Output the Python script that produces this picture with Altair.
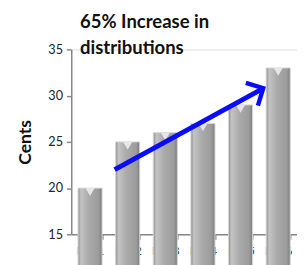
import altair as alt
import pandas as pd

years = ["FY11", "FY12", "FY13", "FY14", "FY15", "FY16"]
cents = [20, 25, 26, 27, 29, 33]

arrow_from = ["FY12"]
arrow_to = ["FY16"]
arrow_y_from = [22.0]
arrow_y_to = [30.8]

title_lines = ["65% Increase in", "distributions"]

bars_df = pd.DataFrame({"year": years, "cents": cents})
arrow_df = pd.DataFrame({"a": arrow_from, "b": arrow_to, "ya": arrow_y_from, "yb": arrow_y_to})

W, H = 232, 190
FONT = "Lato"

yscale = alt.Scale(domain=[15, 35], nice=False, zero=False)
xband = alt.Scale(domain=years, paddingInner=0.36, paddingOuter=0.18)

grad = alt.Gradient(
    gradient="linear", x1=0, x2=1, y1=0, y2=0,
    stops=[
        alt.GradientStop(offset=0, color="#8a8a8a"),
        alt.GradientStop(offset=0.12, color="#c4c4c4"),
        alt.GradientStop(offset=0.45, color="#aaaaaa"),
        alt.GradientStop(offset=0.85, color="#9c9c9c"),
        alt.GradientStop(offset=1, color="#7c7c7c"),
    ],
)

bars = alt.Chart(bars_df).mark_bar(fill=grad, stroke="#d8d8d8", strokeWidth=1).encode(
    x=alt.X("year:N", scale=xband, sort=years,
            axis=alt.Axis(title=None, labelAngle=0, tickBand="extent", domainColor="#888888",
                          tickColor="#888888", tickSize=5, labelPadding=7, labelFont=FONT,
                          labelFontSize=12, labelColor="#222222", domainWidth=1.5, tickWidth=1.5)),
    y=alt.Y("cents:Q", scale=yscale,
            axis=alt.Axis(values=[15, 20, 25, 30, 35], grid=False, title="Cents",
                          titleFont=FONT, titleFontSize=18, titleFontWeight="bold",
                          titleColor="#111111", titleAngle=-90, titleX=-47, titleY=95,
                          titleAlign="center", titleBaseline="middle",
                          labelFont=FONT, labelFontSize=13, labelColor="#222222",
                          domainColor="#888888", tickColor="#888888", tickSize=5,
                          labelPadding=4, domainWidth=1.5, tickWidth=1.5)),
)

caps = alt.Chart(bars_df).mark_point(shape="triangle-down", filled=True, color="#e6e6e6",
                                     opacity=1, size=90, yOffset=4).encode(
    x=alt.X("year:N", scale=xband, sort=years),
    y=alt.Y("cents:Q", scale=yscale),
)

arrow_line = alt.Chart(arrow_df).mark_rule(color="#0a0aff", strokeWidth=5, strokeCap="butt",
                                           xOffset=-1, x2Offset=-3).encode(
    x=alt.X("a:N", scale=xband, bandPosition=0),
    x2=alt.X2("b:N", bandPosition=0),
    y=alt.Y("ya:Q", scale=yscale),
    y2="yb:Q",
)

arrow_head = alt.Chart(arrow_df).mark_point(
    shape="M -1 1 L 0 0 L 1 1", filled=False, stroke="#0a0aff", strokeWidth=4.5,
    size=700, angle=62, opacity=1, strokeJoin="miter", strokeCap="butt", xOffset=-3).encode(
    x=alt.X("b:N", scale=xband, bandPosition=0),
    y=alt.Y("yb:Q", scale=yscale),
)

title1 = alt.Chart(pd.DataFrame({"t": [title_lines[0]]})).mark_text(
    align="left", baseline="alphabetic", font=FONT, fontSize=19, fontWeight="bold",
    color="#111111").encode(text="t:N", x=alt.value(9), y=alt.value(-22))
title2 = alt.Chart(pd.DataFrame({"t": [title_lines[1]]})).mark_text(
    align="left", baseline="alphabetic", font=FONT, fontSize=19, fontWeight="bold",
    color="#111111").encode(text="t:N", x=alt.value(9), y=alt.value(5))

chart = alt.layer(bars, caps, arrow_line, arrow_head, title1, title2).properties(
    width=W, height=H,
    autosize=alt.AutoSizeParams(type="none"),
    padding={"left": 65, "top": 39, "right": 0, "bottom": 30},
).configure_view(stroke=None).configure(background="white")

chart.save("out.html", embed_options={"renderer": "svg", "actions": False})
